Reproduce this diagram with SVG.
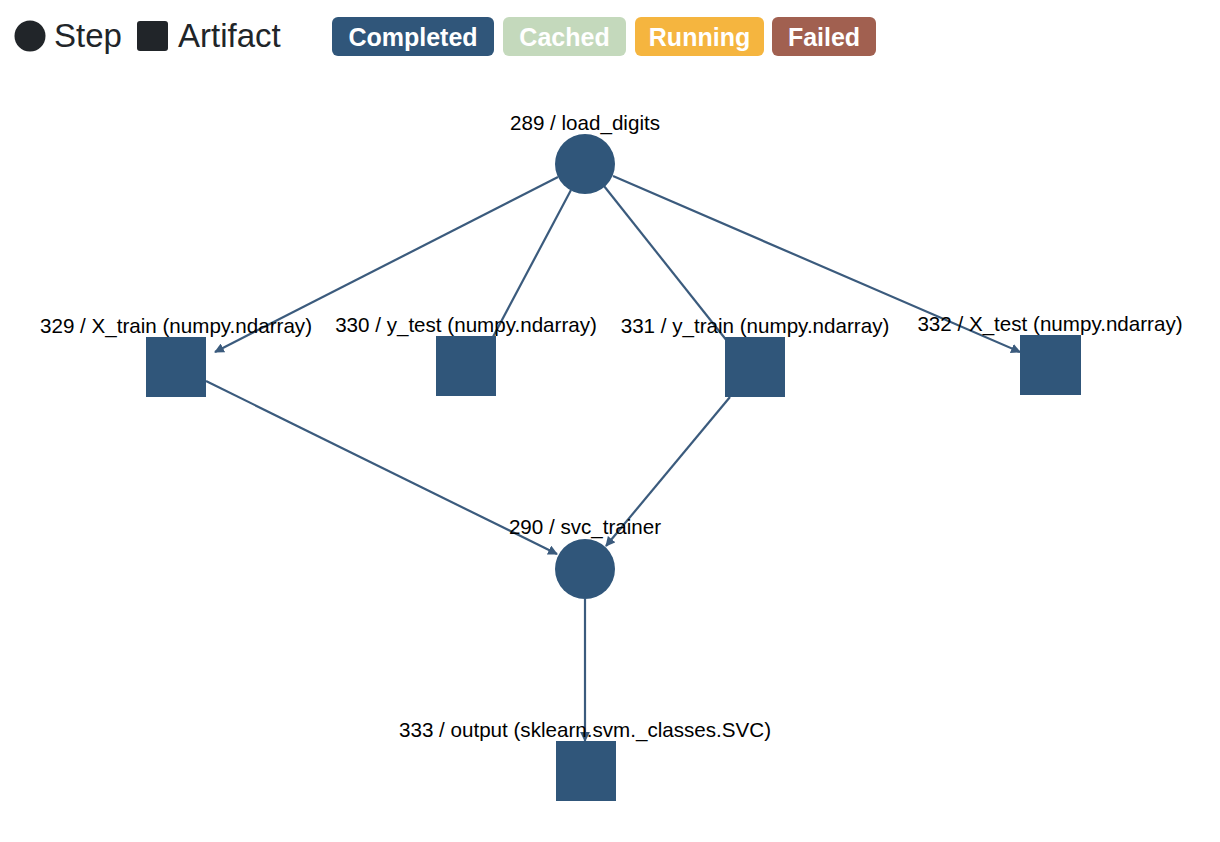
<svg xmlns="http://www.w3.org/2000/svg" width="1220" height="842" viewBox="0 0 1220 842">
<defs>
<style>
.lbl{font-family:"Liberation Sans",Arial,sans-serif;font-size:20.6px;fill:#000;text-anchor:middle}
.node{fill:#30567a}
.edge{stroke:#3b5b7d;stroke-width:2.2;fill:none;marker-end:url(#arr)}
.badge text{font-family:"Liberation Sans",Arial,sans-serif;font-size:25px;font-weight:bold;fill:#fff;text-anchor:middle}
.leg{font-family:"Liberation Sans",Arial,sans-serif;font-size:33px;fill:#212529}
</style>
<marker id="arr" viewBox="0 0 10 10" refX="9" refY="5" markerWidth="4.5" markerHeight="4.5" orient="auto" markerUnits="strokeWidth">
<path d="M0,0 L10,5 L0,10 z" fill="#3b5b7d"/>
</marker>
</defs>
<rect width="1220" height="842" fill="#fff"/>
<g id="legend">
<circle cx="30" cy="36" r="15.5" fill="#212529"/>
<text class="leg" x="54" y="47">Step</text>
<rect x="137" y="21" width="31" height="30" rx="3" fill="#212529"/>
<text class="leg" x="178" y="47">Artifact</text>
<g class="badge">
<rect x="332" y="17" width="162" height="39" rx="6" fill="#30567a"/>
<text x="413" y="46">Completed</text>
<rect x="503" y="17" width="123" height="39" rx="6" fill="#c4d9bc"/>
<text x="564.5" y="46">Cached</text>
<rect x="635" y="17" width="129" height="39" rx="6" fill="#f5b53f"/>
<text x="699.5" y="46">Running</text>
<rect x="772" y="17" width="104" height="39" rx="6" fill="#a16050"/>
<text x="824" y="46">Failed</text>
</g>
</g>
<g id="connectors">
<line class="edge" x1="558" y1="177" x2="215" y2="352"/>
<line class="edge" x1="571" y1="190" x2="485" y2="352"/>
<line class="edge" x1="604" y1="186" x2="735" y2="351"/>
<line class="edge" x1="613" y1="176" x2="1020" y2="352"/>
<line class="edge" x1="206" y1="381" x2="557" y2="554"/>
<line class="edge" x1="730" y1="397" x2="606" y2="546"/>
<line class="edge" x1="585" y1="599" x2="585" y2="741"/>
</g>
<g id="n289">
<circle class="node" cx="585" cy="164" r="30"/>
<text class="lbl" x="585" y="130">289 / load_digits</text>
</g>
<g id="n329">
<rect class="node" x="146" y="337" width="60" height="60"/>
<text class="lbl" x="176" y="333">329 / X_train (numpy.ndarray)</text>
</g>
<g id="n330">
<rect class="node" x="436" y="336" width="60" height="60"/>
<text class="lbl" x="466" y="332">330 / y_test (numpy.ndarray)</text>
</g>
<g id="n331">
<rect class="node" x="725" y="337" width="60" height="60"/>
<text class="lbl" x="755" y="333">331 / y_train (numpy.ndarray)</text>
</g>
<g id="n332">
<rect class="node" x="1020" y="335" width="61" height="60"/>
<text class="lbl" x="1050" y="331">332 / X_test (numpy.ndarray)</text>
</g>
<g id="n290">
<circle class="node" cx="585" cy="569" r="30"/>
<text class="lbl" x="585" y="534">290 / svc_trainer</text>
</g>
<g id="n333">
<rect class="node" x="556" y="741" width="60" height="60"/>
<text class="lbl" x="585" y="737">333 / output (sklearn.svm._classes.SVC)</text>
</g>
</svg>
